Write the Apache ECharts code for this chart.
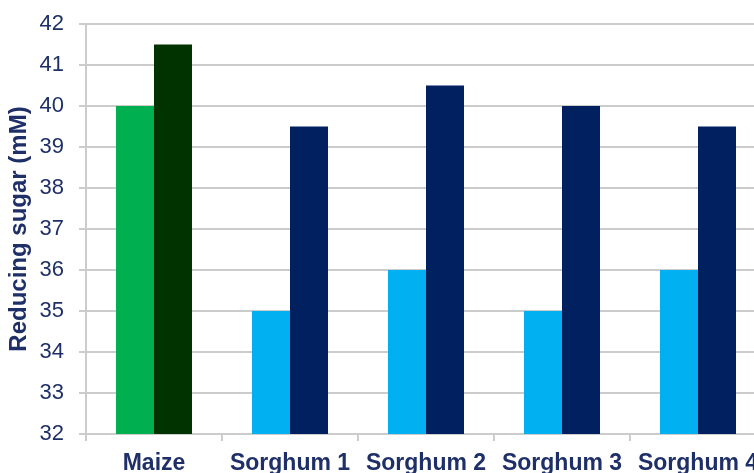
<!DOCTYPE html>
<html>
<head>
<meta charset="utf-8">
<script src="https://cdn.jsdelivr.net/npm/echarts@6/dist/echarts.min.js"></script>
<style>
  html, body { margin: 0; padding: 0; overflow: hidden; background: #fff; }
  #chart { width: 780px; height: 473px; }
</style>
</head>
<body>
<div id="chart"></div>
<script>
// Reducing sugar yield per feedstock, two measurements each
const categories = ['Maize', 'Sorghum 1', 'Sorghum 2', 'Sorghum 3', 'Sorghum 4'];
const firstValues = [40, 35, 36, 35, 36];
const secondValues = [41.5, 39.5, 40.5, 40, 39.5];
const firstColors = ['#00B050', '#00B0F0', '#00B0F0', '#00B0F0', '#00B0F0'];
const secondColors = ['#003300', '#002060', '#002060', '#002060', '#002060'];
const yTicks = { min: 32, max: 42, step: 1 };

const navy = '#1F3068';
const gridGray = '#cccccc';
const font = 'Liberation Sans, Arial, sans-serif';

const chart = echarts.init(document.getElementById('chart'));
chart.setOption({
  animation: false,
  grid: {
    left: 86, top: 24, right: 14, bottom: 39,
    containLabel: false, outerBoundsMode: 'none'
  },
  xAxis: {
    type: 'category',
    data: categories,
    axisLine: { show: true, lineStyle: { color: gridGray, width: 2 } },
    axisTick: { show: true, interval: 0, length: 7, alignWithLabel: false, lineStyle: { color: gridGray, width: 2 } },
    axisLabel: {
      interval: 0, hideOverlap: false,
      color: navy, fontFamily: font,
      fontWeight: 'bold', fontSize: 23, margin: 18
    }
  },
  yAxis: {
    type: 'value',
    min: yTicks.min, max: yTicks.max, interval: yTicks.step,
    name: 'Reducing sugar (mM)',
    nameLocation: 'middle',
    nameGap: 55,
    nameMoveOverlap: false,
    nameTextStyle: {
      color: navy, fontFamily: font,
      fontWeight: 'bold', fontSize: 24
    },
    axisLine: { show: true, lineStyle: { color: gridGray, width: 2 } },
    axisTick: { show: true, length: 7, lineStyle: { color: gridGray, width: 2 } },
    splitLine: { show: true, lineStyle: { color: gridGray, width: 2 } },
    axisLabel: {
      color: navy, fontFamily: font,
      fontSize: 22, margin: 22
    }
  },
  series: [
    {
      type: 'bar',
      barWidth: 38,
      barGap: '0%',
      data: firstValues.map((v, i) => ({ value: v, itemStyle: { color: firstColors[i] } }))
    },
    {
      type: 'bar',
      barWidth: 38,
      barGap: '0%',
      data: secondValues.map((v, i) => ({ value: v, itemStyle: { color: secondColors[i] } }))
    }
  ]
});
</script>
</body>
</html>
